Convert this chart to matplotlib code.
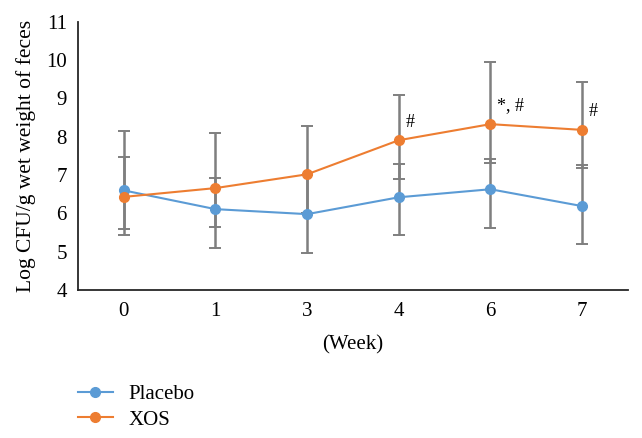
import numpy as np
import matplotlib
matplotlib.use("Agg")
from matplotlib import pyplot as plt

plt.rcParams['font.family'] = ['Liberation Serif', 'DejaVu Serif']

weeks = ["0", "1", "3", "4", "6", "7"]

placebo = [6.60, 6.11, 5.98, 6.42, 6.63, 6.19]
placebo_up = [0.87, 0.81, 1.02, 0.87, 0.78, 1.07]
placebo_lo = [1.01, 1.01, 1.01, 0.98, 1.00, 0.99]

xos = [6.43, 6.66, 7.02, 7.91, 8.33, 8.18]
xos_up = [1.72, 1.45, 1.27, 1.18, 1.63, 1.26]
xos_lo = [0.99, 1.01, 1.00, 1.01, 1.02, 1.00]

marks = ["", "", "", "#", "*, #", "#"]

blue = "#5B9BD5"
orange = "#ED7D31"
grey = "#7F7F7F"

fig = plt.figure(figsize=(6.42, 4.38), dpi=100)
ax = fig.add_axes([0.1215, 0.338, 0.8565, 0.612])

x = np.arange(len(weeks))

ax.errorbar(x, placebo, yerr=[placebo_lo, placebo_up], fmt="none",
            ecolor=grey, elinewidth=1.8, capsize=4.5, capthick=1.4, zorder=1)
ax.errorbar(x, xos, yerr=[xos_lo, xos_up], fmt="none",
            ecolor=grey, elinewidth=1.8, capsize=4.5, capthick=1.4, zorder=1)

l1, = ax.plot(x, placebo, color=blue, lw=1.5, marker="o", ms=7, zorder=3,
              label="Placebo")
l2, = ax.plot(x, xos, color=orange, lw=1.5, marker="o", ms=7, zorder=3,
              label="XOS")

for i in range(len(weeks)):
    if marks[i]:
        ax.annotate(marks[i], (x[i], xos[i]), xytext=(5, 7),
                    textcoords="offset points", fontsize=13, ha="left",
                    va="bottom")

ax.set_xlim(-0.5, len(weeks) - 0.5)
ax.set_ylim(4, 11)
ax.set_yticks(range(4, 12))
ax.set_xticks(x)
ax.set_xticklabels(weeks)
ax.tick_params(length=0, labelsize=15, pad=8)
ax.tick_params(axis="x", pad=9)

for s in ["top", "right"]:
    ax.spines[s].set_visible(False)
ax.spines["left"].set_color("#262626")
ax.spines["bottom"].set_color("#262626")
ax.spines["left"].set_linewidth(1.3)
ax.spines["bottom"].set_linewidth(1.3)

ax.set_ylabel("Log CFU/g wet weight of feces", fontsize=15.5, labelpad=7)
fig.text(0.55, 1 - 345 / 438, "(Week)", ha="center", va="center", fontsize=15)

fig.legend(handles=[l1, l2], loc="upper left",
           bbox_to_anchor=(0.108, 1 - 376 / 438), frameon=False,
           fontsize=15, handlelength=1.7, labelspacing=0.3,
           handletextpad=0.75, borderaxespad=0)

fig.savefig("out.png", dpi=100)
